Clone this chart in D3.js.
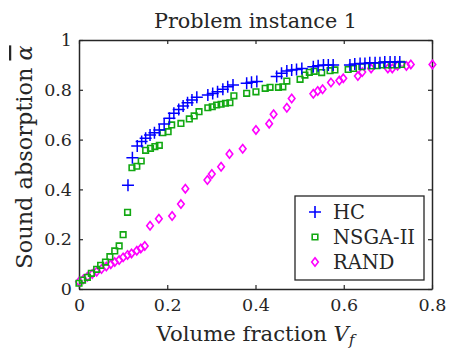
<!DOCTYPE html>
<html>
<head>
<meta charset="utf-8">
<script src="https://cdn.jsdelivr.net/npm/d3@7"></script>
<style>
  body { margin: 0; background: #fff; }
</style>
</head>
<body>
<div id="chart"></div>
<script>
// --- data ---
const hcX = [0.111,0.121,0.132,0.142,0.151,0.161,0.171,0.182,0.193,0.205,0.215,0.226,0.236,0.246,0.256,0.267,0.292,0.303,0.314,0.326,0.337,0.349,0.380,0.391,0.403,0.448,0.459,0.471,0.482,0.493,0.505,0.531,0.542,0.554,0.565,0.576,0.614,0.625,0.637,0.648,0.659,0.671,0.682,0.693,0.705,0.716,0.727];
const hcY = [0.417,0.527,0.574,0.592,0.605,0.618,0.628,0.639,0.663,0.686,0.706,0.721,0.735,0.748,0.759,0.770,0.779,0.785,0.792,0.802,0.812,0.819,0.826,0.830,0.833,0.853,0.866,0.876,0.880,0.882,0.886,0.893,0.897,0.900,0.900,0.900,0.900,0.904,0.906,0.906,0.909,0.909,0.909,0.912,0.912,0.912,0.912];

const nsgaX = [0,0.008,0.019,0.028,0.040,0.049,0.060,0.070,0.081,0.091,0.100,0.110,0.120,0.131,0.141,0.151,0.162,0.172,0.182,0.190,0.202,0.210,0.231,0.250,0.261,0.272,0.292,0.302,0.312,0.322,0.332,0.342,0.351,0.380,0.401,0.422,0.433,0.452,0.462,0.471,0.501,0.512,0.522,0.533,0.550,0.569,0.580,0.610,0.622,0.641,0.663,0.675,0.686,0.697,0.709,0.721,0.731];
const nsgaY = [0.023,0.036,0.047,0.063,0.079,0.095,0.108,0.130,0.153,0.173,0.218,0.308,0.487,0.493,0.514,0.557,0.565,0.572,0.577,0.628,0.632,0.659,0.665,0.683,0.695,0.712,0.728,0.732,0.739,0.742,0.746,0.748,0.776,0.786,0.792,0.806,0.810,0.810,0.812,0.835,0.842,0.859,0.870,0.874,0.869,0.877,0.880,0.882,0.886,0.893,0.896,0.897,0.900,0.900,0.900,0.900,0.902];

const randX = [0,0.010,0.019,0.030,0.040,0.051,0.062,0.072,0.081,0.091,0.100,0.110,0.119,0.131,0.140,0.149,0.161,0.181,0.211,0.231,0.241,0.291,0.301,0.322,0.341,0.371,0.401,0.431,0.441,0.471,0.482,0.531,0.541,0.552,0.571,0.590,0.599,0.632,0.642,0.662,0.700,0.710,0.722,0.742,0.752,0.801];
const randY = [0.029,0.039,0.049,0.060,0.069,0.080,0.090,0.099,0.108,0.116,0.127,0.137,0.143,0.154,0.163,0.173,0.254,0.282,0.293,0.341,0.403,0.438,0.462,0.491,0.542,0.563,0.639,0.664,0.702,0.728,0.765,0.784,0.795,0.802,0.829,0.837,0.846,0.855,0.871,0.886,0.886,0.886,0.897,0.896,0.902,0.902];

const xTicks = [0, 0.2, 0.4, 0.6, 0.8];
const yTicks = [0, 0.2, 0.4, 0.6, 0.8, 1];
const seriesNames = ["HC", "NSGA-II", "RAND"];

// --- layout ---
const W = 449, H = 349;
const margin = { top: 40, right: 17, bottom: 60, left: 79 };
const width = W - margin.left - margin.right;
const height = H - margin.top - margin.bottom;
const axisColor = "#262626";
const FONT = "DejaVu Serif";

const svg = d3.select("#chart").append("svg")
  .attr("width", W).attr("height", H)
  .attr("font-family", FONT);

const g = svg.append("g")
  .attr("transform", `translate(${margin.left},${margin.top})`);

const x = d3.scaleLinear().domain([0, 0.8]).range([0, width]);
const y = d3.scaleLinear().domain([0, 1]).range([height, 0]);

const fmt = d => d === 0 ? "0" : d === 1 ? "1" : d3.format(".1f")(d);

// scale a text's font size so that it spans roughly the width seen in the reference
function fitWidth(sel, target) {
  const fs = +sel.attr("font-size");
  const w = sel.node().getBBox().width;
  if (w > 0) sel.attr("font-size", (fs * target / w).toFixed(2));
  return sel;
}

// axes: ticks pointing inward, box on
function styleAxis(sel) {
  sel.attr("font-family", FONT);
  sel.selectAll(".domain").attr("stroke", axisColor).attr("stroke-width", 1.5);
  sel.selectAll(".tick line").attr("stroke", axisColor).attr("stroke-width", 1.2);
  sel.selectAll(".tick text").attr("font-size", 17.5).attr("fill", axisColor);
}

g.append("g").attr("transform", `translate(0,${height})`)
  .call(d3.axisBottom(x).tickValues(xTicks).tickFormat(fmt).tickSizeInner(-4).tickSizeOuter(0).tickPadding(10))
  .call(styleAxis);
g.append("g")
  .call(d3.axisTop(x).tickValues(xTicks).tickFormat("").tickSizeInner(-4).tickSizeOuter(0))
  .call(styleAxis);
g.append("g")
  .call(d3.axisLeft(y).tickValues(yTicks).tickFormat(fmt).tickSizeInner(-4).tickSizeOuter(0).tickPadding(7))
  .call(styleAxis);
g.append("g").attr("transform", `translate(${width},0)`)
  .call(d3.axisRight(y).tickValues(yTicks).tickFormat("").tickSizeInner(-4).tickSizeOuter(0))
  .call(styleAxis);

// --- markers ---
const plusPath = s => `M${-s},0H${s}M0,${-s}V${s}`;
const squarePath = s => `M${-s},${-s}H${s}V${s}H${-s}Z`;
const diamondPath = (w, h) => `M0,${-h}L${w},0L0,${h}L${-w},0Z`;

const hc = hcX.map((v, i) => ({ x: v, y: hcY[i] }));
const nsga = nsgaX.map((v, i) => ({ x: v, y: nsgaY[i] }));
const rand = randX.map((v, i) => ({ x: v, y: randY[i] }));

const plot = g.append("g");

plot.selectAll(".rand").data(rand).join("path")
  .attr("class", "rand")
  .attr("transform", d => `translate(${x(d.x)},${y(d.y)})`)
  .attr("d", diamondPath(3.3, 4.2))
  .attr("fill", "none").attr("stroke", "#ff00ff").attr("stroke-width", 1.6);

plot.selectAll(".nsga").data(nsga).join("path")
  .attr("class", "nsga")
  .attr("transform", d => `translate(${x(d.x)},${y(d.y)})`)
  .attr("d", squarePath(2.8))
  .attr("fill", "none").attr("stroke", "#12a812").attr("stroke-width", 1.6);

plot.selectAll(".hc").data(hc).join("path")
  .attr("class", "hc")
  .attr("transform", d => `translate(${x(d.x)},${y(d.y)})`)
  .attr("d", plusPath(6))
  .attr("fill", "none").attr("stroke", "#0000ff").attr("stroke-width", 1.5);

// --- legend ---
const leg = svg.append("g").attr("transform", "translate(295,196)");
leg.append("rect").attr("width", 129).attr("height", 84)
  .attr("fill", "#fff").attr("stroke", axisColor).attr("stroke-width", 1.3);
const legY = d3.scalePoint().domain(seriesNames).range([16, 66]);
const legMarks = {
  "HC": { d: plusPath(6), c: "#0000ff" },
  "NSGA-II": { d: squarePath(2.8), c: "#12a812" },
  "RAND": { d: diamondPath(3.3, 4.2), c: "#ff00ff" }
};
seriesNames.forEach(n => {
  leg.append("path").attr("transform", `translate(20,${legY(n)})`)
    .attr("d", legMarks[n].d).attr("fill", "none")
    .attr("stroke", legMarks[n].c).attr("stroke-width", 1.6);
  leg.append("text").attr("x", 38).attr("y", legY(n) + 7)
    .attr("font-size", 19.5).attr("fill", axisColor).text(n);
});

// --- titles ---
svg.append("text").attr("x", margin.left + width / 2).attr("y", 28)
  .attr("text-anchor", "middle").attr("font-size", 20).attr("fill", axisColor)
  .text("Problem instance 1")
  .call(fitWidth, 203);

const xl = svg.append("text").attr("x", margin.left + width / 2).attr("y", 341)
  .attr("text-anchor", "middle").attr("font-size", 20).attr("fill", axisColor);
xl.append("tspan").text("Volume fraction ");
xl.append("tspan").attr("font-style", "italic").text("V");
xl.append("tspan").attr("font-style", "italic").attr("font-size", "0.7em").attr("dy", 4).text("f");
xl.call(fitWidth, 202);

const yl = svg.append("text")
  .attr("x", 0).attr("y", 0)
  .attr("text-anchor", "middle").attr("font-size", 20).attr("fill", axisColor);
yl.append("tspan").text("Sound absorption ");
yl.append("tspan").attr("font-style", "italic").style("text-decoration", "overline").text("α");
yl.call(fitWidth, 224)
  .attr("transform", `translate(32,157) rotate(-90)`);
</script>
</body>
</html>
